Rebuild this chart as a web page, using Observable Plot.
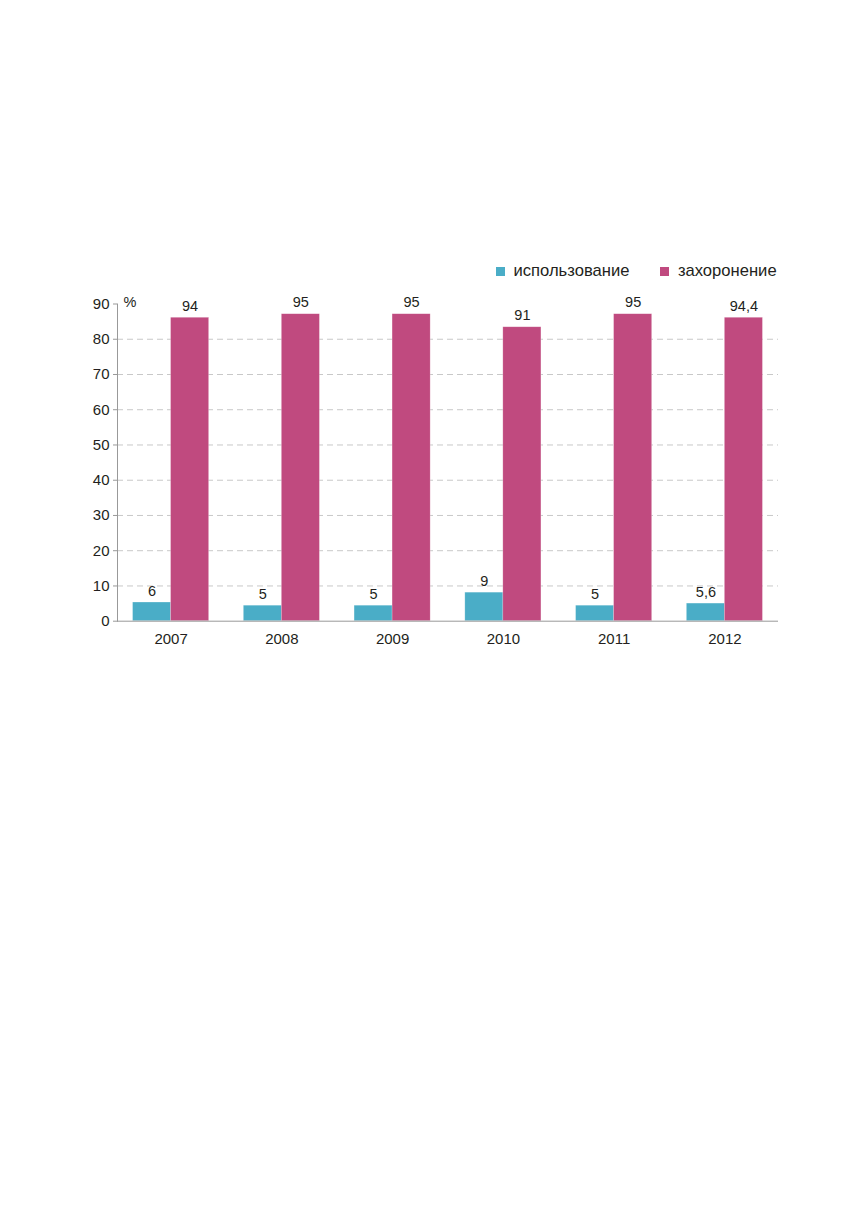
<!DOCTYPE html>
<html>
<head>
<meta charset="utf-8">
<script src="https://cdn.jsdelivr.net/npm/d3@7"></script>
<script src="https://cdn.jsdelivr.net/npm/@observablehq/plot@0.6"></script>
<style>
  html, body { margin: 0; padding: 0; background: #fff; }
  body { width: 856px; height: 1229px; font-family: "Liberation Sans", Arial, sans-serif; color: #231f20; }
  #head { position: relative; height: 285px; }
  #legend { position: absolute; top: 261px; left: 496px; display: flex; align-items: center; font-size: 16.6px; white-space: nowrap; }
  #legend .item { display: flex; align-items: center; }
  #legend .sw { width: 9px; height: 9px; margin-right: 8.5px; }
  #chart svg { display: block; }
</style>
</head>
<body>
<div id="head"><div id="legend"></div></div>
<div id="chart"></div>
<script>
// Data
const years = ["2007", "2008", "2009", "2010", "2011", "2012"];
const seriesNames = ["использование", "захоронение"];
const seriesColors = ["#4aadc7", "#c04a7f"];
// bar heights as drawn in the picture
const usage = [5.3, 4.4, 4.4, 8.1, 4.4, 5.0];
const burial = [86.1, 87.1, 87.1, 83.4, 87.1, 86.1];
// value labels as printed
const usageLabels = ["6", "5", "5", "9", "5", "5,6"];
const burialLabels = ["94", "95", "95", "91", "95", "94,4"];
const yTicks = [0, 10, 20, 30, 40, 50, 60, 70, 80, 90];
const gridTicks = [10, 20, 30, 40, 50, 60, 70, 80];

const usageData = years.map((y, i) => ({year: y, value: usage[i], label: usageLabels[i]}));
const burialData = years.map((y, i) => ({year: y, value: burial[i], label: burialLabels[i]}));

// Legend
const legend = document.getElementById("legend");
seriesNames.forEach((name, i) => {
  const it = document.createElement("div");
  it.className = "item";
  if (i > 0) it.style.marginLeft = "31px";
  const sw = document.createElement("div");
  sw.className = "sw";
  sw.style.background = seriesColors[i];
  const tx = document.createElement("span");
  tx.textContent = name;
  it.appendChild(sw); it.appendChild(tx);
  legend.appendChild(it);
});

const half = 19;
const chart = Plot.plot({
  width: 856,
  height: 400,
  marginTop: 18.5,
  marginBottom: 64.3,
  marginLeft: 117,
  marginRight: 78,
  style: {fontFamily: "Liberation Sans, Arial, sans-serif", color: "#231f20", background: "#fff"},
  x: {type: "band", domain: years, paddingInner: 0.656, paddingOuter: 0.312, round: false},
  y: {domain: [0, 90]},
  marks: [
    Plot.gridY(gridTicks, {stroke: "#c8c8c8", strokeOpacity: 1, strokeDasharray: "6,4"}),
    Plot.barY(usageData, {x: "year", y: "value", fill: seriesColors[0], dx: -half, stroke: "#ffffff", strokeOpacity: 0.4, strokeWidth: 0.6}),
    Plot.barY(burialData, {x: "year", y: "value", fill: seriesColors[1], dx: half, stroke: "#ffffff", strokeOpacity: 0.4, strokeWidth: 0.6}),
    Plot.text(usageData, {x: "year", y: "value", text: "label", dx: -half, dy: -7, lineAnchor: "bottom", fontSize: 14.5, fill: "#231f20"}),
    Plot.text(burialData, {x: "year", y: "value", text: "label", dx: half, dy: -7, lineAnchor: "bottom", fontSize: 14.5, fill: "#231f20"}),
    Plot.axisY(yTicks, {tickSize: 4, tickPadding: 4, fontSize: 15, stroke: "#999", label: null, fill: "#231f20"}),
    Plot.frame({anchor: "left", stroke: "#999"}),
    Plot.ruleY([0], {stroke: "#999"}),
    Plot.axisX({tickSize: 0, tickPadding: 12, fontSize: 15, label: null, fill: "#231f20"}),
    Plot.text(["%"], {frameAnchor: "top-left", dx: 6, dy: -7, fontSize: 14.5, fill: "#231f20", textAnchor: "start"})
  ]
});
document.getElementById("chart").appendChild(chart);
</script>
</body>
</html>
